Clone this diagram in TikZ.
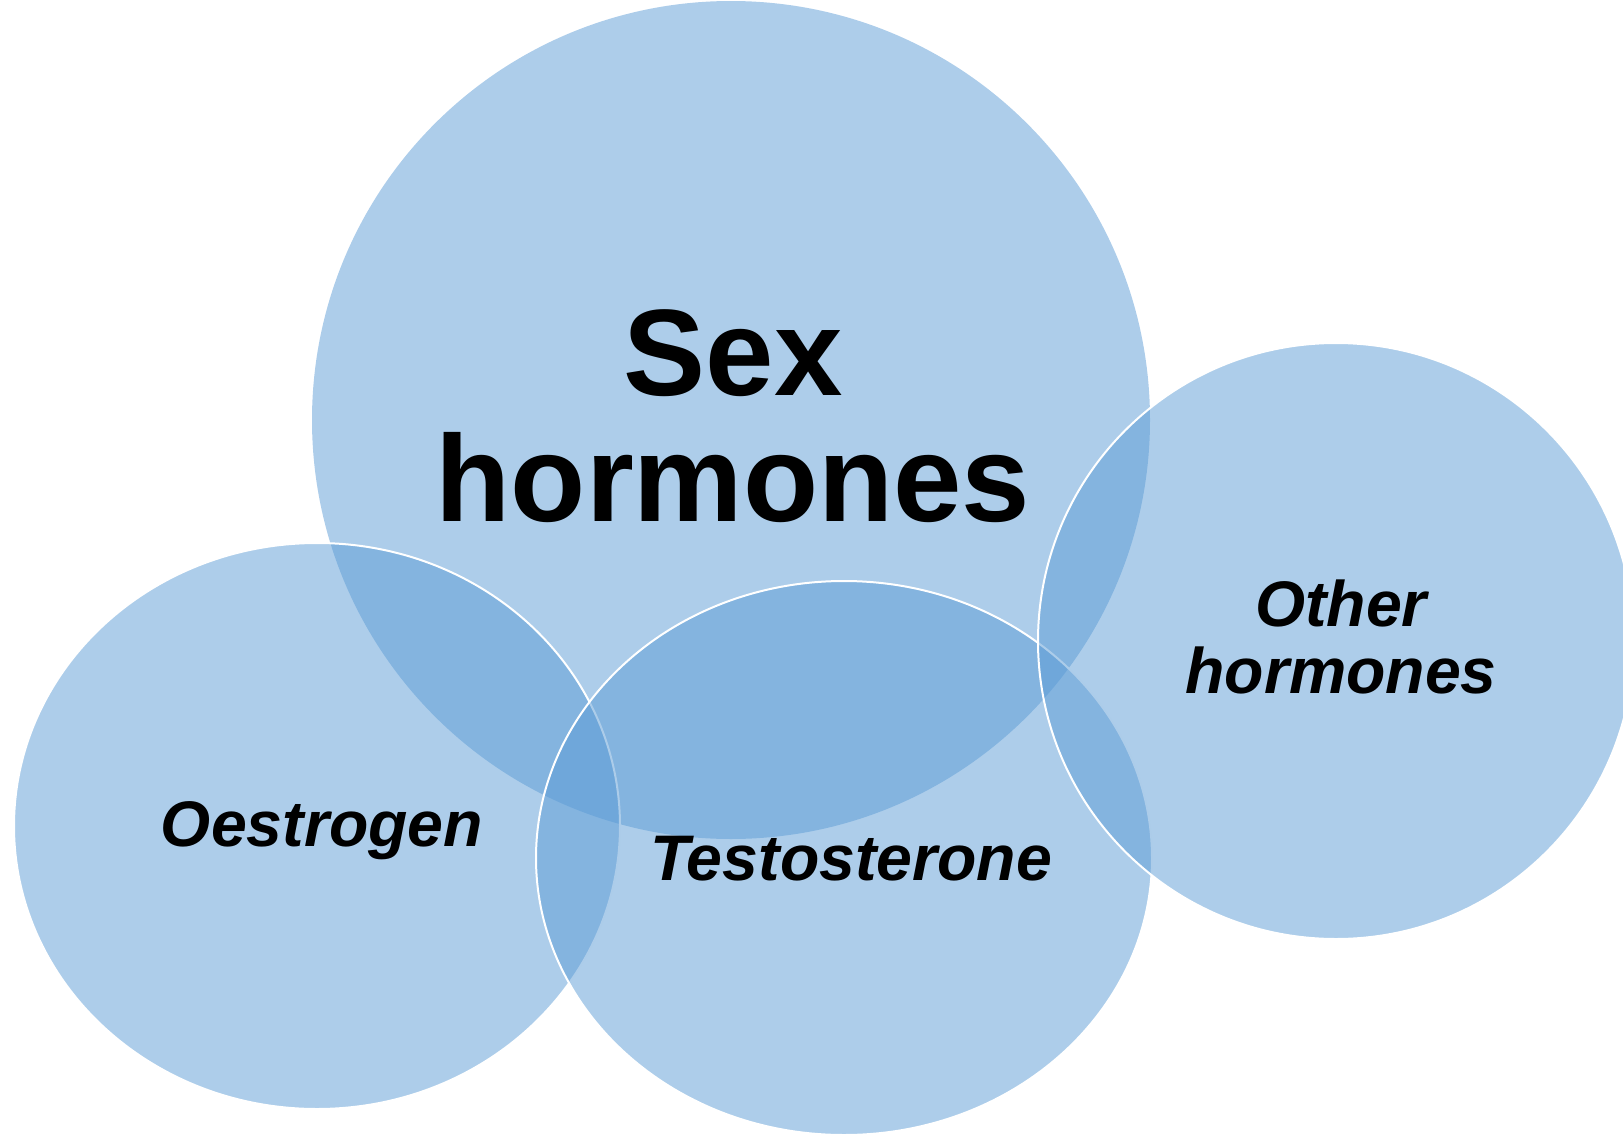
\documentclass[tikz,border=0pt]{standalone}
\usepackage{fontspec}
\setmainfont{Liberation Sans}
\definecolor{hblue}{HTML}{5B9BD5}
\begin{document}
\begin{tikzpicture}[x=0.5pt,y=-0.5pt,
  blob/.style={fill=hblue, fill opacity=0.5, draw=white, line width=1pt},
  bigblob/.style={fill=hblue, fill opacity=0.5, draw=none},
  titletext/.style={font=\fontsize{61.5}{62.8}\selectfont\bfseries, align=center, text=black, inner sep=0pt},
  lbl/.style={font=\fontsize{32.2}{33.3}\selectfont\bfseries\itshape, align=center, text=black, inner sep=0pt}]
\useasboundingbox (0,0) rectangle (1623,1135);
\clip (0,0) rectangle (1623,1135);
% circles
\path[bigblob] (731,420) circle [radius=209.5pt];
\path[blob] (317,826) ellipse [x radius=151.5pt, y radius=141.5pt];
\path[blob] (844,858) ellipse [x radius=154pt, y radius=138.5pt];
\path[blob] (1336,641) circle [radius=149pt];
% labels (base anchor = baseline of the last line)
\node[titletext, anchor=base] (sex) at (733,521) {Sex\\hormones};
\node[lbl, anchor=base] (oes) at (322,846) {Oestrogen};
\node[lbl, anchor=base] (tes) at (851,880) {Testosterone};
\node[lbl, anchor=base] (oth) at (1341,693) {Other\\hormones};
\end{tikzpicture}
\end{document}
